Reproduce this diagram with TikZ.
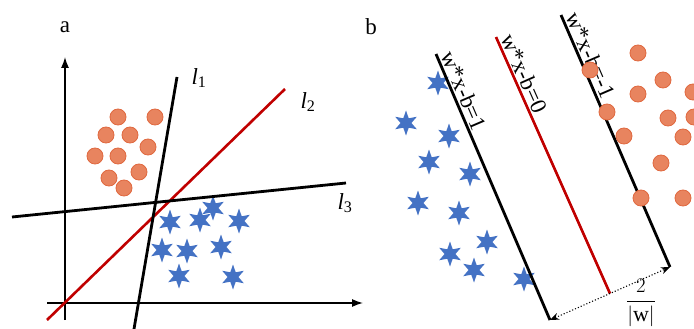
\documentclass[tikz,border=0pt]{standalone}
\usepackage{amsmath}
\usepackage{fontspec}
\setmainfont{Liberation Serif}
\usetikzlibrary{arrows.meta,shapes.geometric,calc}
\definecolor{dotorange}{HTML}{E8845F}
\definecolor{dotedge}{HTML}{E0683F}
\definecolor{starblue}{HTML}{4472C4}
\definecolor{sepred}{HTML}{C00000}

\begin{document}
\begin{tikzpicture}[
  x=1pt, y=-1pt,
  font=\fontsize{23}{27}\selectfont,
  axis/.style={-{Latex[length=11pt,width=8pt]}, line width=1.3pt},
  hyper/.style={line width=2.8pt},
  redline/.style={draw=sepred, line width=2.6pt},
  circpt/.style={circle, fill=dotorange, draw=dotedge, line width=0.8pt, minimum size=16pt, inner sep=0pt},
  starpt/.style={star, star points=6, star point ratio=2.3, fill=starblue, minimum size=25pt, inner sep=0pt},
  margin/.style={{Stealth[length=9pt,width=7pt]}-{Stealth[length=9pt,width=7pt]}, dotted, line width=1.1pt},
  lbl/.style={inner sep=2pt}
]
  \useasboundingbox (0,0) rectangle (694,329);

  % panel a: three candidate lines
  \node (tagA) at (65,27) {a};
  \coordinate (ya) at (65,320);
  \coordinate (yb) at (65,57);
  \coordinate (xa) at (47,303);
  \coordinate (xb) at (363,303);
  \draw[axis] (ya) -- (yb);
  \draw[axis] (xa) -- (xb);

  \foreach \x/\y [count=\i] in {213/208, 170/222, 200/220, 239/221, 162/250, 187/251, 221/247, 179/276, 233/277}
    \node[starpt] (sa\i) at (\x,\y) {};
  \foreach \x/\y [count=\i] in {118/117, 155/117, 106/135, 130/135, 148/147, 95/156, 118/156, 139/172, 109/178, 124/188}
    \node[circpt] (ca\i) at (\x,\y) {};

  \coordinate (l1a) at (134,329);
  \coordinate (l1b) at (177,77);
  \coordinate (l2a) at (47,320);
  \coordinate (l2b) at (285,89);
  \coordinate (l3a) at (12,217);
  \coordinate (l3b) at (346,183);
  \draw[redline] (l2a) -- (l2b);
  \draw[hyper] (l1a) -- (l1b);
  \draw[hyper] (l3a) -- (l3b);
  \node (lab1) at (199,78) {\textit{l}\textsubscript{1}};
  \node (lab2) at (308,102) {\textit{l}\textsubscript{2}};
  \node (lab3) at (345,203) {\textit{l}\textsubscript{3}};

  % panel b: maximum margin
  \node (tagB) at (371,27) {b};
  \foreach \x/\y [count=\i] in {438/83, 406/123, 449/136, 429/162, 470/174, 418/203, 459/213, 487/242, 450/254, 474/270, 524/279}
    \node[starpt] (sb\i) at (\x,\y) {};

  \coordinate (pa) at (436,54);
  \coordinate (pb) at (550,320);
  \coordinate (qa) at (561,15);
  \coordinate (qb) at (670,267);
  \coordinate (ra) at (496,37);
  \coordinate (rb) at ($(pb)!0.5!(qb)$);
  \draw[hyper] (pa) -- (pb) node[sloped, pos=0, anchor=south west, lbl] (lp) {w*x-b=1};
  \draw[redline] (ra) -- (rb) node[sloped, pos=0, anchor=south west, lbl] (lr) {w*x-b=0};
  \draw[hyper] (qa) -- (qb) node[sloped, pos=0, anchor=south west, lbl] (lq) {w*x-b=-1};
  \draw[margin] (pb) -- (qb);
  \node[font=\fontsize{22}{26}\selectfont, inner sep=0pt] (gap) at (641,303) {$\dfrac{2}{|\mathrm{w}|}$};

  \foreach \x/\y [count=\i] in {638/53, 590/70, 663/80, 693/92, 638/94, 607/112, 668/118, 694/117, 624/136, 683/137, 661/163, 641/198, 683/198}
    \node[circpt] (cb\i) at (\x,\y) {};
\end{tikzpicture}
\end{document}
